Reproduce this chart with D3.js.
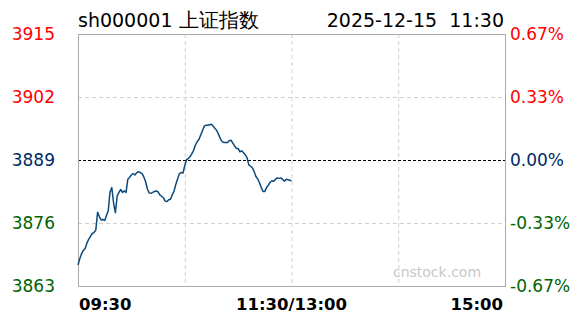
<!DOCTYPE html>
<html>
<head>
<meta charset="utf-8">
<script src="https://cdn.jsdelivr.net/npm/d3@7"></script>
<style>
  body { margin: 0; background: #fff; }
  svg { display: block; font-family: "DejaVu Sans", Verdana, sans-serif; }
</style>
</head>
<body>
<div id="chart"></div>
<script>
// intraday minute chart for sh000001, morning session only

const titleCode = "sh000001 ";
const titleName = "上证指数";
const stamp = "2025-12-15  11:30";
const preClose = 3889;

// price labels on the left, percent labels on the right
const priceLabels = ["3915", "3902", "3889", "3876", "3863"];
const pctLabels = ["0.67%", "0.33%", "0.00%", "-0.33%", "-0.67%"];
const labelColors = ["#ff0000", "#ff0000", "#002a66", "#006400", "#006400"];

// time axis labels (minutes from 09:30, trading minutes only)
const timeTicks = [0, 120, 240];
const timeLabels = ["09:30", "11:30/13:00", "15:00"];

// one price per minute, 09:30 .. 11:30
const morningPrices = [
  3867.3, 3868.6, 3869.6, 3870.3, 3870.7, 3871.8, 3872.6, 3873.2, 3873.8, 3874.0,
  3874.5, 3878.2, 3877.3, 3876.6, 3876.7, 3876.5, 3877.5, 3878.5, 3882.4, 3883.3,
  3880.1, 3878.1, 3881.5, 3882.3, 3882.9, 3882.3, 3882.6, 3882.3, 3885.0, 3885.4,
  3885.9, 3886.2, 3885.9, 3886.4, 3886.6, 3886.4, 3886.2, 3885.5, 3884.5, 3883.0,
  3882.2, 3882.1, 3882.3, 3882.5, 3882.6, 3882.4, 3881.8, 3881.5, 3881.2, 3880.5,
  3880.4, 3880.8, 3880.9, 3881.8, 3882.6, 3884.0, 3885.1, 3886.2, 3886.4, 3886.3,
  3887.8, 3889.1, 3889.3, 3889.7, 3890.3, 3891.0, 3892.1, 3892.8, 3893.3, 3894.2,
  3895.1, 3896.0, 3896.2, 3896.2, 3896.3, 3896.4, 3896.0, 3895.5, 3895.1, 3894.3,
  3893.4, 3892.8, 3892.6, 3892.6, 3892.6, 3893.0, 3893.1, 3892.5, 3891.9, 3891.4,
  3891.4, 3890.7, 3890.9, 3890.5, 3890.1, 3889.5, 3888.0, 3887.7, 3887.4, 3886.6,
  3885.6, 3885.1, 3884.3, 3883.3, 3882.5, 3882.5, 3883.3, 3883.8, 3884.4, 3884.7,
  3884.6, 3885.0, 3885.3, 3885.2, 3885.3, 3885.0, 3884.6, 3885.0, 3884.9, 3884.8,
  3884.7
];

var width = 588;
var height = 324;
var margin = {top: 34, right: 83, bottom: 38, left: 78};

const svg = d3.select("#chart")
    .append("svg")
    .attr("width", width)
    .attr("height", height);

// scales
const xScale = d3.scaleLinear()
    .domain([0, 240])
    .range([margin.left, width - margin.right]);
const yScale = d3.scaleLinear()
    .domain([preClose * (1 - 0.0067), preClose * (1 + 0.0067)])
    .range([height - margin.bottom, margin.top]);
const rowScale = d3.scalePoint()
    .domain(d3.range(priceLabels.length))
    .range([margin.top, height - margin.bottom]);

// vertical dashed grid
svg.selectAll(".vgrid")
    .data([60, 120, 180])
    .enter()
    .append("line")
        .attr("x1", d => xScale(d) + 0.5)
        .attr("x2", d => xScale(d) + 0.5)
        .attr("y1", margin.top)
        .attr("y2", height - margin.bottom)
        .attr("stroke", "#d0d0d0")
        .attr("stroke-dasharray", "4,3");

// horizontal dashed grid, middle one is the previous close
svg.selectAll(".hgrid")
    .data([1, 2, 3])
    .enter()
    .append("line")
        .attr("x1", margin.left)
        .attr("x2", width - margin.right)
        .attr("y1", d => Math.round(rowScale(d)) + 0.5)
        .attr("y2", d => Math.round(rowScale(d)) + 0.5)
        .attr("stroke", d => d == 2 ? "#000" : "#d0d0d0")
        .attr("stroke-dasharray", d => d == 2 ? "3,2" : "4,3");

// watermark
svg.append("text")
    .attr("x", 437)
    .attr("y", 277)
    .attr("text-anchor", "middle")
    .style("font-size", "14px")
    .style("fill", "#c8c8c8")
    .text("cnstock.com");

// frame
svg.append("rect")
    .attr("x", margin.left + 0.5)
    .attr("y", margin.top + 0.5)
    .attr("width", width - margin.left - margin.right)
    .attr("height", height - margin.top - margin.bottom)
    .attr("fill", "none")
    .attr("stroke", "#aaaaaa");

// price line
var line = d3.line()
    .x((d, i) => xScale(i))
    .y(d => yScale(d));

svg.append("path")
    .datum(morningPrices)
    .attr("d", line)
    .style("fill", "none")
    .style("stroke", "#0a4a7e")
    .style("stroke-width", "1.5")
    .style("stroke-linejoin", "round");

// left price labels
svg.selectAll(".plabel")
    .data(priceLabels)
    .enter()
    .append("text")
        .attr("x", 55)
        .attr("y", (d, i) => rowScale(i) + 6)
        .attr("text-anchor", "end")
        .style("font-size", "17px")
        .style("fill", (d, i) => labelColors[i])
        .text(d => d);

// right percent labels
svg.selectAll(".pctlabel")
    .data(pctLabels)
    .enter()
    .append("text")
        .attr("x", 510)
        .attr("y", (d, i) => rowScale(i) + 6)
        .style("font-size", "17px")
        .style("fill", (d, i) => labelColors[i])
        .text(d => d);

// time labels
svg.selectAll(".tlabel")
    .data(timeLabels)
    .enter()
    .append("text")
        .attr("x", (d, i) => xScale(timeTicks[i]) + (i == 0 ? 1 : i == 2 ? -2 : 0))
        .attr("y", 310)
        .attr("text-anchor", (d, i) => i == 0 ? "start" : i == 1 ? "middle" : "end")
        .style("font-size", "16.5px")
        .style("font-weight", "bold")
        .style("fill", "#000")
        .text(d => d);

// header
var head = svg.append("text")
    .attr("x", 78)
    .attr("y", 27)
    .attr("xml:space", "preserve")
    .style("white-space", "pre")
    .style("fill", "#000");
head.append("tspan")
    .style("font-size", "19px")
    .text(titleCode);
head.append("tspan")
    .style("font-size", "20px")
    .text(titleName);

svg.append("text")
    .attr("x", 504)
    .attr("y", 27)
    .attr("text-anchor", "end")
    .attr("xml:space", "preserve")
    .style("white-space", "pre")
    .style("font-size", "19px")
    .style("fill", "#000")
    .text(stamp);
</script>
</body>
</html>
